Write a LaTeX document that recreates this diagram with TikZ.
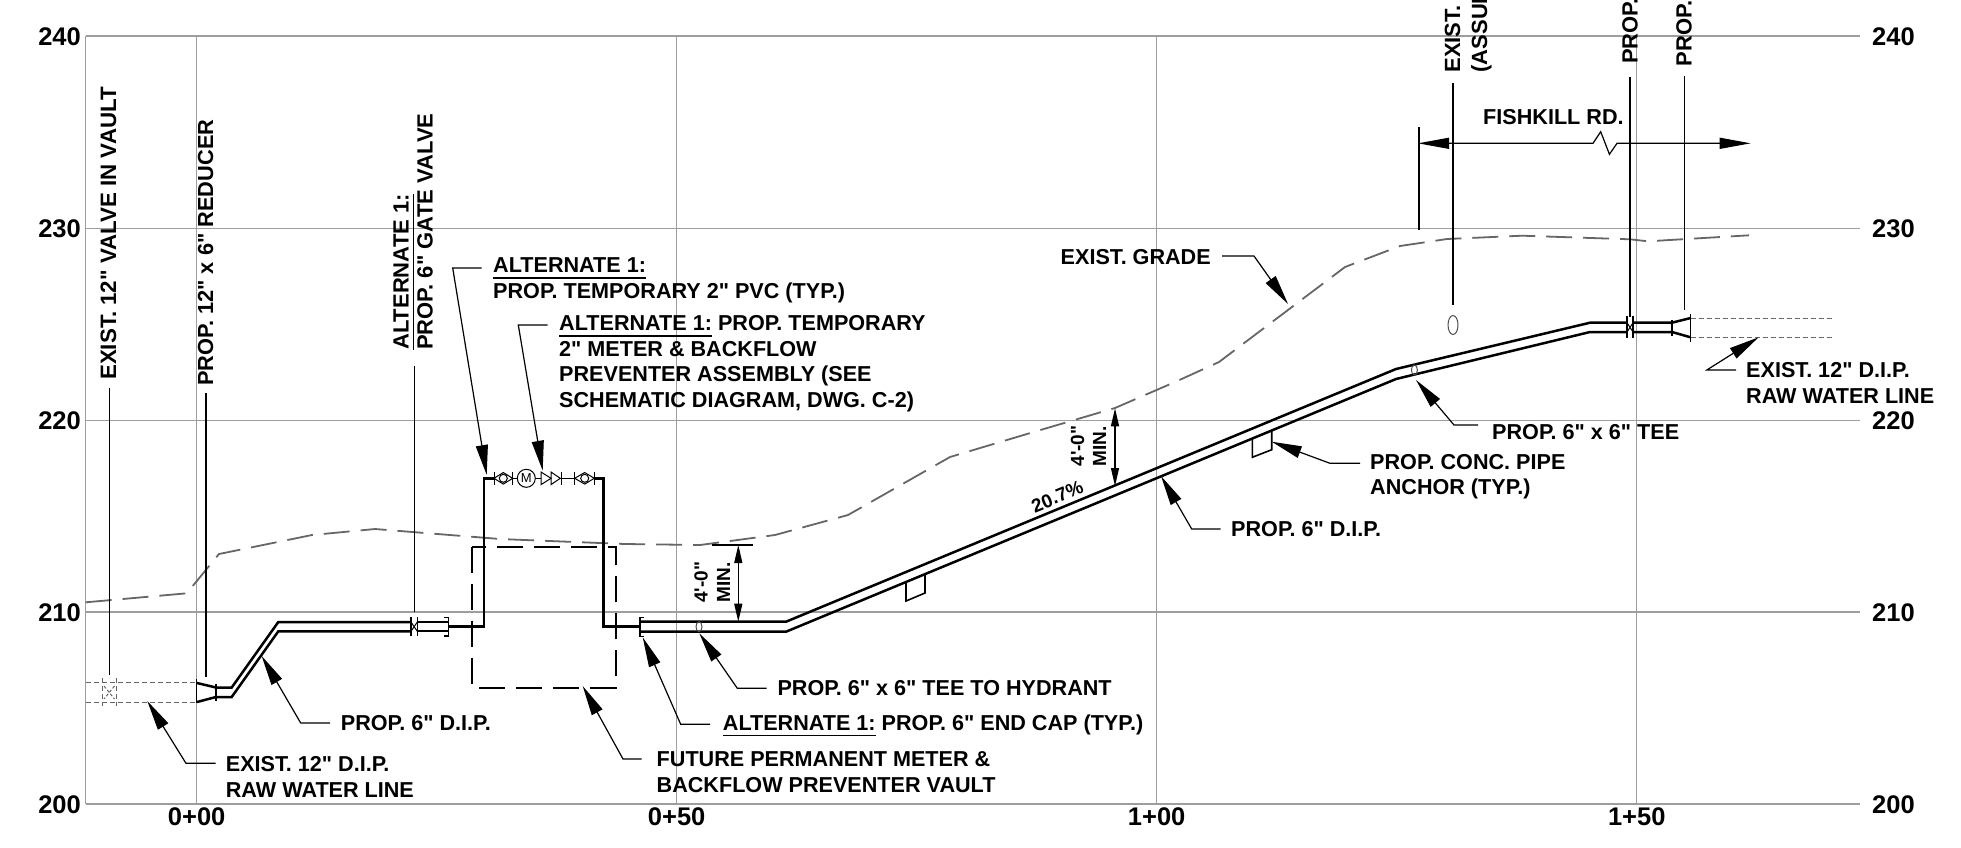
\documentclass[tikz,border=0pt]{standalone}
\usepackage{fontspec}
\setmainfont{Liberation Sans}[Ligatures=TeXOff]
\usetikzlibrary{arrows.meta}
\newsavebox{\ulbox}
\newcommand{\ulx}[1]{\sbox{\ulbox}{#1}\rlap{\vrule height -4.2pt depth 5.6pt width \wd\ulbox}\usebox{\ulbox}}
\newcommand{\fl}{\rule{0pt}{16pt}}
\tikzset{
  gridline/.style={draw=black!38,line width=1.3},
  pipe/.style={draw=black,line width=2.5,line join=miter},
  thinpipe/.style={draw=black!80,line width=1.1},
  exist/.style={draw=black!60,line width=1,dash pattern=on 5pt off 3pt},
  grade/.style={draw=black!60,line width=1.8,dash pattern=on 26pt off 11pt},
  vault/.style={draw=black,line width=1.8,dash pattern=on 26pt off 11pt},
  lead/.style={draw=black,line width=1.2},
  leader/.style={lead,-{Triangle[length=30pt,width=12pt]},shorten >=0pt},
  dimline/.style={lead,{Triangle[length=18pt,width=8pt]}-{Triangle[length=18pt,width=8pt]}},
  lab/.style={font=\fontsize{21.6}{25.5}\selectfont\bfseries,inner sep=0pt,align=left,anchor=north west},
  vlab/.style={font=\fontsize{22}{25.5}\selectfont\bfseries,inner sep=0pt,anchor=base west,rotate=90},
  mlab/.style={font=\fontsize{19}{23}\selectfont\bfseries,inner sep=0pt,anchor=base west,rotate=90},
  axl/.style={font=\fontsize{25.5}{30}\selectfont\bfseries,inner sep=0pt},
  sym/.style={draw=black,line width=1},
  oval/.style={draw=black!70,line width=1}
}
\begin{document}
\begin{tikzpicture}[x=1pt,y=-1pt]
\useasboundingbox (0,0) rectangle (1961,847);
\clip (0,0) rectangle (1961,847);
% grid
\foreach \yy in {36,228.3,420.3,612,804} \draw[gridline] (85.7,\yy) -- (1860,\yy);
\foreach \xx in {85.7,196.7,676.7,1156.7,1636.7} \draw[gridline] (\xx,36) -- (\xx,804);
% axis labels
\node[axl,anchor=east] (l240) at (81,36.5) {240};
\node[axl,anchor=east] (l230) at (81,228.5) {230};
\node[axl,anchor=east] (l220) at (81,420.5) {220};
\node[axl,anchor=east] (l210) at (81,612.5) {210};
\node[axl,anchor=east] (l200) at (81,804.5) {200};
\node[axl,anchor=west] (r240) at (1872,36.5) {240};
\node[axl,anchor=west] (r230) at (1872,228.5) {230};
\node[axl,anchor=west] (r220) at (1872,420.5) {220};
\node[axl,anchor=west] (r210) at (1872,612.5) {210};
\node[axl,anchor=west] (r200) at (1872,804.5) {200};
\node[axl] (s0) at (196.7,817) {0+00};
\node[axl] (s50) at (676.7,817) {0+50};
\node[axl] (s100) at (1156.7,817) {1+00};
\node[axl] (s150) at (1636.7,817) {1+50};
% grade
\draw[grade] (85.7,602.3) -- (186.7,593.3) -- (219,554) -- (312,535) -- (375,529) -- (500,539) -- (625,544) -- (700,545) -- (775,535) -- (848,515) -- (950,457) -- (1037,431) -- (1115,408) -- (1175,382) -- (1219,362) -- (1345,267) -- (1400,246) -- (1447,239) -- (1522,235.7) -- (1630,239.3) -- (1648,241.3) -- (1749,235.3);
% vault
\draw[vault] (472,546.7) rectangle (615.7,687.7);
% existing pipes
\draw[exist] (85.7,682.7) -- (196.7,682.7);
\draw[exist] (85.7,702) -- (196.7,702);
\draw[exist] (102.7,678) -- (102.7,706);
\draw[exist] (116,678) -- (116,706);
\draw[exist,dash pattern=on 3pt off 2pt] (104,686) -- (114.5,699) (114.5,686) -- (104,699);
\draw[exist] (1690.6,318) -- (1833.5,318);
\draw[exist] (1690.6,337.3) -- (1833.5,337.3);
% left reducer and pipe
\draw[lead,line width=1.5] (196.7,679) -- (196.7,702.7);
\draw[lead] (216,684) -- (216,701);
\draw[pipe] (197,683) -- (216,687.5) -- (231.7,687.5) -- (278.3,622) -- (411.7,622);
\draw[pipe] (197,702) -- (216,697) -- (231.7,697) -- (278.3,631.3) -- (411.7,631.3);
% gate valve
\draw[lead] (411,617.3) -- (411,636) (417.3,617.3) -- (417.3,636);
\draw[sym] (411,622) -- (417.3,631.3) (417.3,622) -- (411,631.3);
\draw[lead,line width=1.8] (417.3,622) -- (448.3,622) (417.3,631.3) -- (448.3,631.3);
\draw[lead] (443.5,617.3) -- (448.3,617.3) -- (448.3,636) -- (443.5,636);
% temporary loop
\draw[pipe] (448.3,626.7) -- (484,626.7) -- (484,478.3) -- (494,478.3);
\draw[pipe] (594.3,478.3) -- (603.3,478.3) -- (603.3,626.7) -- (640,626.7);
% symbols
\draw[sym] (494,472) -- (494,484.6) (512.7,472) -- (512.7,484.6);
\draw[sym] (494,478.3) -- (503.3,472.5) -- (512.7,478.3) -- (503.3,484.1) -- cycle;
\draw[sym] (503.3,478.3) circle[radius=4];
\draw[sym] (512.7,478.3) -- (517.3,478.3);
\node[draw=black,line width=1,circle,minimum size=18pt,inner sep=0pt,font=\fontsize{13}{13}\selectfont] (meter) at (526.3,478.3) {M};
\draw[sym] (meter.east) -- (541,478.3);
\draw[sym] (541,472) -- (551,478.3) -- (541,484.6) -- cycle;
\draw[sym] (551,472) -- (560.3,478.3) -- (551,484.6) -- cycle;
\draw[sym] (561.3,472) -- (561.3,484.6);
\draw[sym] (561.3,478.3) -- (574.7,478.3);
\draw[sym] (574.7,472) -- (574.7,484.6) (594.3,472) -- (594.3,484.6);
\draw[sym] (574.7,478.3) -- (584.7,472.5) -- (594.3,478.3) -- (584.7,484.1) -- cycle;
\draw[sym] (584.7,478.3) circle[radius=4];
% main pipe
\draw[lead] (644.3,617.3) -- (640,617.3) -- (640,636.7) -- (644.3,636.7);
\draw[pipe] (640,621.7) -- (786,621.7) -- (1396,369) -- (1590,322.7) -- (1627,322.7);
\draw[pipe] (640,631.7) -- (786,631.7) -- (1396,379) -- (1590,332) -- (1627,332);
% east valve and reducer
\draw[lead] (1627,316) -- (1627,338) (1633,316) -- (1633,338);
\draw[sym] (1627,322.7) -- (1633,332) (1633,322.7) -- (1627,332);
\draw[pipe] (1633,322.7) -- (1672,322.7) -- (1690.6,318);
\draw[pipe] (1633,332) -- (1672,332) -- (1690.6,337.3);
\draw[lead] (1672,320) -- (1672,336);
\draw[lead] (1690.6,314) -- (1690.6,341.7);
% anchors
\draw[lead,line width=1.6] (906,582) -- (906,601) -- (925,593) -- (925,574);
\draw[lead,line width=1.6] (1252.3,438.3) -- (1252.3,457.3) -- (1271.7,449.7) -- (1271.7,430.7);
% tees
\draw[oval] (699,626.7) ellipse[x radius=3,y radius=5];
\draw[oval] (1414.4,370) ellipse[x radius=3,y radius=5];
\draw[oval] (1453,325) ellipse[x radius=5,y radius=9.5];
% vertical labels and leaders
\node[vlab,font=\fontsize{22.3}{25.5}\selectfont\bfseries] (v1) at (116,380) {EXIST. 12" VALVE IN VAULT};
\coordinate (v1e) at (109.3,675);
\draw[lead] (109.3,388) -- (v1e);
\node[vlab,font=\fontsize{21.8}{25.5}\selectfont\bfseries] (v2) at (213,386) {PROP. 12" x 6" REDUCER};
\coordinate (v2e) at (206,676.7);
\draw[lead] (206,393) -- (v2e);
\node[vlab] (v3) at (408.5,350) {\ulx{ALTERNATE 1:}};
\node[vlab] (v3b) at (432.5,350) {PROP. 6" GATE VALVE};
\coordinate (v3e) at (414.3,612);
\draw[lead] (414.3,366) -- (v3e);
\node[vlab] (v4) at (1460,72.7) {EXIST.};
\node[vlab] (v4b) at (1487,72.7) {(ASSUM};
\draw[lead] (1453,83) -- (1453,305);
\node[vlab] (v5) at (1637.5,64) {PROP.};
\draw[lead] (1630,77) -- (1630,317);
\node[vlab] (v6) at (1691.5,66.7) {PROP.};
\draw[lead] (1684.5,76) -- (1684.5,310);
% Fishkill
\node[lab] (fk) at (1483,108.7) {\fl FISHKILL RD.};
\draw[lead] (1419,127) -- (1419,230);
\coordinate (fka) at (1418,143.3);
\coordinate (fkb) at (1750.7,143.3);
\draw[lead,{Triangle[length=31pt,width=11pt]}-{Triangle[length=31pt,width=11pt]}] (fka) -- (1593,143.3) -- (1600.7,131.7) -- (1609.4,154.3) -- (1617,143.3) -- (fkb);
% dims
\draw[lead] (711.7,545) -- (753.3,545);
\draw[dimline] (738.3,545) -- (738.3,621.7);
\node[mlab] (d1) at (707.5,603) {4'-0"};
\node[mlab] (d1b) at (730,603) {MIN.};
\draw[dimline] (1115,408.3) -- (1115,486);
\node[mlab] (d2) at (1084,466.7) {4'-0"};
\node[mlab] (d2b) at (1106,466.7) {MIN.};
\node[font=\fontsize{19}{23}\selectfont\bfseries,inner sep=0pt,rotate=22.5] (pct) at (1057.3,496.7) {20.7\%};
% callouts
\node[lab] (a) at (225.7,755.7) {\fl EXIST. 12" D.I.P.\\RAW WATER LINE};
\draw[leader] (215.7,763.3) -- (186,763.3) -- (147.3,701);
\node[lab] (b) at (340.7,714.7) {\fl PROP. 6" D.I.P.};
\draw[leader] (330,723) -- (300.7,723) -- (261.7,656);
\node[lab] (c) at (656.5,750.6) {\fl FUTURE PERMANENT METER \&\\BACKFLOW PREVENTER VAULT};
\draw[leader] (641.5,759) -- (623,759) -- (582.7,686);
\node[lab] (dd) at (722.7,714.5) {\fl \ulx{ALTERNATE 1:} PROP. 6" END CAP (TYP.)};
\draw[leader] (710,724.3) -- (680.7,724.3) -- (642.7,637.3);
\node[lab] (e) at (777.3,679.7) {\fl PROP. 6" x 6" TEE TO HYDRANT};
\draw[leader] (766.7,688.3) -- (737.3,688.3) -- (699.3,633.3);
\node[lab] (i) at (1231,520.7) {\fl PROP. 6" D.I.P.};
\draw[leader] (1220.7,529) -- (1191.7,529) -- (1161,476);
\node[lab] (j) at (1370,453) {\fl PROP. CONC. PIPE\\ANCHOR (TYP.)};
\draw[leader] (1360,463.3) -- (1330,463.3) -- (1271.7,441.7);
\node[lab] (k) at (1492,423) {\fl PROP. 6" x 6" TEE};
\draw[leader] (1478,425) -- (1454,425) -- (1416,380);
\node[lab] (ll) at (1746,361.7) {\fl EXIST. 12" D.I.P.\\RAW WATER LINE};
\draw[leader] (1736,370) -- (1706.8,370) -- (1758.6,337.3);
\node[lab] (m) at (1060.5,248) {\fl EXIST. GRADE};
\draw[leader] (1222,256) -- (1254,256) -- (1288,304);
\node[lab] (n) at (493,256.7) {\fl \ulx{ALTERNATE 1:}\\PROP. TEMPORARY 2" PVC (TYP.)};
\draw[leader] (481.7,268) -- (452.7,268) -- (486.7,475);
\node[lab] (o) at (559,314.7) {\fl \ulx{ALTERNATE 1:} PROP. TEMPORARY\\2" METER \& BACKFLOW\\PREVENTER ASSEMBLY (SEE\\SCHEMATIC DIAGRAM, DWG. C-2)};
\draw[leader] (547.7,325) -- (518.3,325) -- (542.7,470.7);
\end{tikzpicture}
\end{document}
